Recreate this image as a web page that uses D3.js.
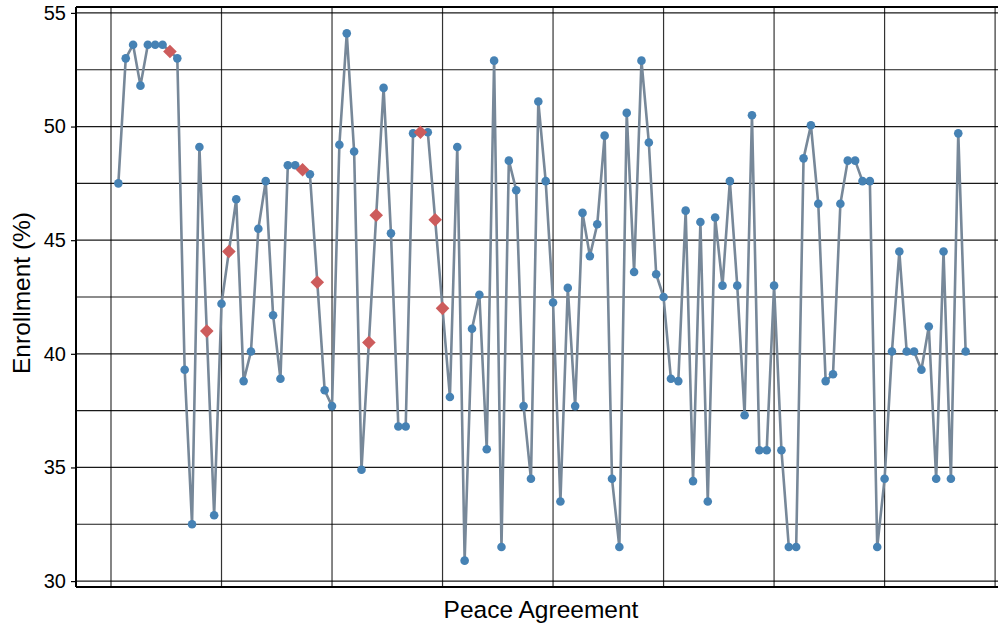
<!DOCTYPE html>
<html>
<head>
<meta charset="utf-8">
<script src="https://cdn.jsdelivr.net/npm/d3@7"></script>
<style>
  body { margin: 0; background: #fff; }
  svg text { font-family: "Liberation Sans", Arial, sans-serif; fill: #000; }
</style>
</head>
<body>
<svg id="chart" width="998" height="626"></svg>
<script>
// enrollment per agreement, in order
const enrollment = [
  47.5, 53.0, 53.6, 51.8, 53.6, 53.6, 53.6, 53.3, 53.0, 39.3,
  32.5, 49.1, 41.0, 32.9, 42.2, 44.5, 46.8, 38.8, 40.1, 45.5,
  47.6, 41.7, 38.9, 48.3, 48.3, 48.1, 47.9, 43.15, 38.4, 37.7,
  49.2, 54.1, 48.9, 34.9, 40.5, 46.1, 51.7, 45.3, 36.8, 36.8,
  49.7, 49.75, 49.75, 45.9, 42.0, 38.1, 49.1, 30.9, 41.1, 42.6,
  35.8, 52.9, 31.5, 48.5, 47.2, 37.7, 34.5, 51.1, 47.6, 42.26,
  33.5, 42.9, 37.7, 46.2, 44.3, 45.7, 49.6, 34.5, 31.5, 50.6,
  43.6, 52.9, 49.3, 43.5, 42.5, 38.9, 38.8, 46.3, 34.4, 45.8,
  33.5, 46.0, 43.0, 47.6, 43.0, 37.3, 50.5, 35.76, 35.76, 43.0,
  35.76, 31.5, 31.5, 48.6, 50.06, 46.6, 38.8, 39.1, 46.6, 48.5,
  48.5, 47.6, 47.6, 31.5, 34.5, 40.1, 44.5, 40.1, 40.1, 39.3,
  41.2, 34.5, 44.5, 34.5, 49.7, 40.1
];
// agreements drawn as red diamonds (1-based position)
const highlighted = [8, 13, 16, 26, 28, 35, 36, 42, 44, 45];
const yTicks = [30, 35, 40, 45, 50, 55];
const yGrid = [30, 32.5, 35, 37.5, 40, 42.5, 45, 47.5, 50, 52.5, 55];
const xGrid = [0, 15, 30, 45, 60, 75, 90, 105, 120];

const points = enrollment.map((v, i) => ({ n: i + 1, v, hi: highlighted.includes(i + 1) }));

const svg = d3.select("#chart");
const mLeft = 76, mTop = 7, mBottom = 587, mRight = 1008;

const x = d3.scaleLinear().domain([-4.75, 121.75]).range([mLeft, mRight]);
const y = d3.scaleLinear().domain([29.74, 55.26]).range([mBottom, mTop]);

// grid
svg.append("g")
  .selectAll("line")
  .data(yGrid)
  .join("line")
  .attr("x1", mLeft).attr("x2", mRight)
  .attr("y1", d => y(d)).attr("y2", d => y(d))
  .attr("stroke", "#000").attr("stroke-opacity", 0.9).attr("stroke-width", 1.2);

svg.append("g")
  .selectAll("line")
  .data(xGrid)
  .join("line")
  .attr("x1", d => x(d)).attr("x2", d => x(d))
  .attr("y1", mTop).attr("y2", mBottom)
  .attr("stroke", "#000").attr("stroke-opacity", 0.8).attr("stroke-width", 1.2);

// line
const line = d3.line().x(d => x(d.n)).y(d => y(d.v));
svg.append("path")
  .datum(points)
  .attr("d", line)
  .attr("fill", "none")
  .attr("stroke", "#778899")
  .attr("stroke-width", 2.6)
  .attr("stroke-linejoin", "round");

// markers
svg.append("g")
  .selectAll("circle")
  .data(points.filter(d => !d.hi))
  .join("circle")
  .attr("cx", d => x(d.n)).attr("cy", d => y(d.v))
  .attr("r", 4.3)
  .attr("fill", "#4682b4");

const diamond = d3.symbol().type(d3.symbolDiamond2).size(118);
svg.append("g")
  .selectAll("path")
  .data(points.filter(d => d.hi))
  .join("path")
  .attr("transform", d => `translate(${x(d.n)},${y(d.v)})`)
  .attr("d", diamond)
  .attr("fill", "#cd5c5c");

// spines
svg.append("line").attr("x1", mLeft).attr("x2", mRight).attr("y1", mTop).attr("y2", mTop)
  .attr("stroke", "#000").attr("stroke-width", 2);
svg.append("line").attr("x1", mLeft).attr("x2", mRight).attr("y1", mBottom).attr("y2", mBottom)
  .attr("stroke", "#000").attr("stroke-width", 2);
svg.append("line").attr("x1", mLeft).attr("x2", mLeft).attr("y1", mTop).attr("y2", mBottom)
  .attr("stroke", "#000").attr("stroke-width", 2);

// y axis
const yAxis = svg.append("g")
  .attr("transform", `translate(${mLeft},0)`)
  .call(d3.axisLeft(y).tickValues(yTicks).tickSize(5).tickPadding(5).tickFormat(d3.format("d")));
yAxis.select(".domain").remove();
yAxis.selectAll("line").attr("stroke", "#000").attr("stroke-width", 1.2);
yAxis.selectAll("text").style("font-size", "20px").attr("fill", "#000");

// axis labels
svg.append("text")
  .attr("x", 541).attr("y", 618)
  .attr("text-anchor", "middle")
  .style("font-size", "24.5px")
  .text("Peace Agreement");

svg.append("text")
  .attr("transform", "translate(30,293) rotate(-90)")
  .attr("text-anchor", "middle")
  .style("font-size", "24.5px")
  .text("Enrollment (%)");
</script>
</body>
</html>
